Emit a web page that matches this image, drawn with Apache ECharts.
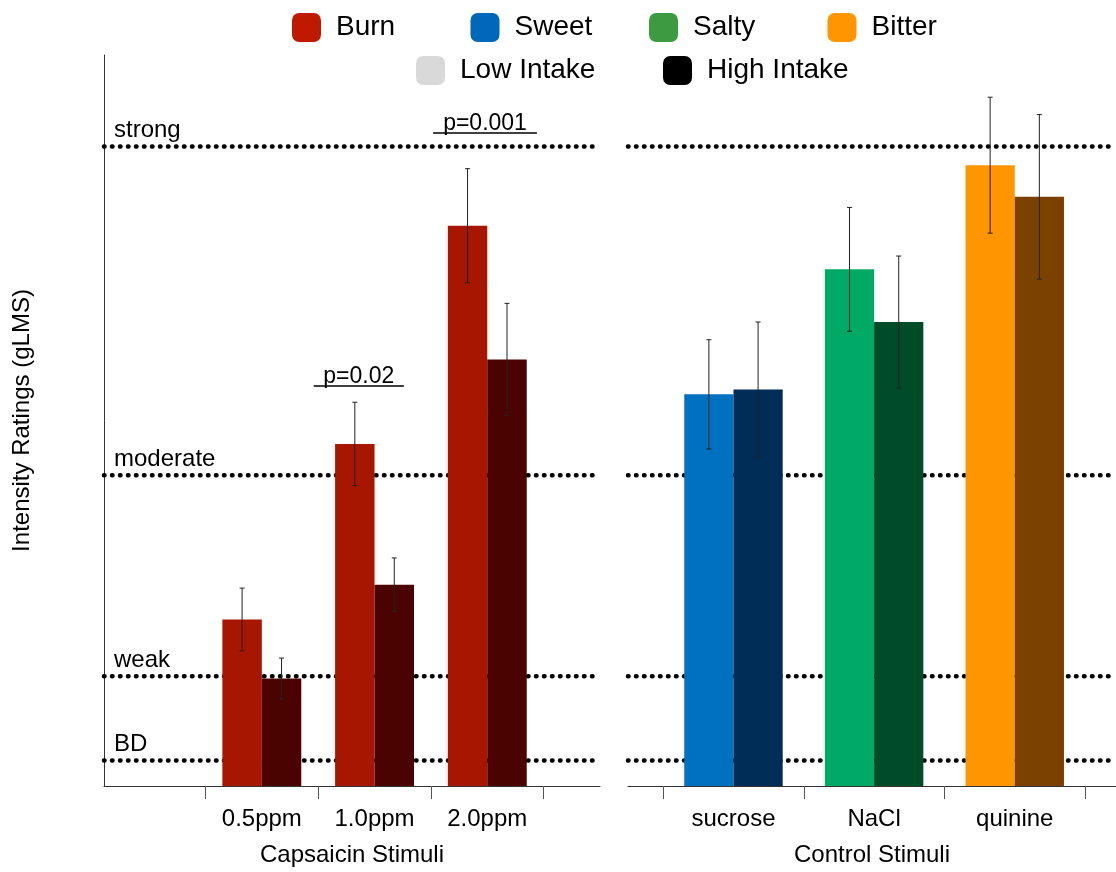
<!DOCTYPE html>
<html>
<head>
<meta charset="utf-8">
<script src="https://cdn.jsdelivr.net/npm/echarts@6/dist/echarts.min.js"></script>
<style>html,body{margin:0;padding:0;background:#fff}#chart{width:1116px;height:872px}</style>
</head>
<body>
<div id="chart"></div>
<script>
// ---- data ----
const capsaicinCats = ['0.5ppm', '1.0ppm', '2.0ppm'];
const capsLow = [9.11, 18.72, 30.66];
const capsLowErr = [1.72, 2.28, 3.12];
const capsHigh = [5.88, 11.01, 23.34];
const capsHighErr = [1.12, 1.47, 3.07];

const controlCats = ['sucrose', 'NaCl', 'quinine'];
const ctrlLow = [21.43, 28.27, 33.97];
const ctrlLowErr = [2.99, 3.39, 3.72];
const ctrlHigh = [21.70, 25.39, 32.24];
const ctrlHighErr = [3.69, 3.61, 4.50];

const refLabels = ['strong', 'moderate', 'weak', 'BD'];
const refValues = [35, 17, 6, 1.4];

const sigLabels = ['p=0.02', 'p=0.001'];
const sigFrom = [1.46, 2.52];
const sigTo = [2.26, 3.44];
const sigY = [21.9, 35.75];

const legendTastes = ['Burn', 'Sweet', 'Salty', 'Bitter'];
const legendIntake = ['Low Intake', 'High Intake'];

// ---- styles ----
const tasteLegendColors = ['#BF1A00', '#0068B8', '#3D9A40', '#FF9500'];
const capsLowColor = '#A61600';
const capsHighColor = '#4A0300';
const ctrlLowColors = ['#0070C0', '#00AA66', '#FF9500'];
const ctrlHighColors = ['#002D58', '#004B28', '#7B4100'];
const FONT = 'Liberation Sans, Arial, Helvetica, sans-serif';
const BAR_FRAC = 0.35;

function errorRenderer(sign) {
  return function (params, api) {
    const x = api.value(0);
    const lo = api.value(1);
    const hi = api.value(2);
    const band = api.size([1, 0])[0];
    const w = band * BAR_FRAC;
    const cx = api.coord([x, 0])[0] + sign * w / 2;
    const yLo = api.coord([x, lo])[1];
    const yHi = api.coord([x, hi])[1];
    const cap = 2.5;
    const st = { stroke: '#222', lineWidth: 1 };
    return {
      type: 'group',
      children: [
        { type: 'line', shape: { x1: cx, y1: yHi, x2: cx, y2: yLo }, style: st },
        { type: 'line', shape: { x1: cx - cap, y1: yHi, x2: cx + cap, y2: yHi }, style: st },
        { type: 'line', shape: { x1: cx - cap, y1: yLo, x2: cx + cap, y2: yLo }, style: st }
      ]
    };
  };
}

// dotted reference lines drawn beneath the bars
function refSeries(grid, showLabel) {
  return {
    type: 'custom', xAxisIndex: grid, yAxisIndex: grid, z: 1, silent: true,
    encode: { y: 0 },
    data: refValues.map(v => [v]),
    renderItem: function (params, api) {
      const cs = params.coordSys;
      const y = api.coord([0, api.value(0)])[1];
      const children = [{
        type: 'line',
        shape: { x1: cs.x, y1: y, x2: cs.x + cs.width, y2: y },
        style: { stroke: '#000', lineWidth: 4.5, lineDash: [0.5, 7.5], lineCap: 'round' }
      }];
      if (showLabel) {
        children.push({
          type: 'text', x: cs.x + 10, y: y - 4,
          style: {
            text: refLabels[params.dataIndex], fontSize: 24, fontFamily: FONT,
            fill: '#000', align: 'left', verticalAlign: 'bottom'
          }
        });
      }
      return { type: 'group', children: children };
    }
  };
}

function xAxisCommon(grid, min, max, cats, name) {
  return {
    type: 'value', gridIndex: grid, min: min, max: max,
    axisLine: { show: true, onZero: false, lineStyle: { color: '#333', width: 1 } },
    axisTick: { show: true, customValues: [0.5, 1.5, 2.5, 3.5], length: 13, lineStyle: { color: '#555', width: 1 } },
    axisLabel: {
      customValues: [1, 2, 3],
      formatter: v => cats[Math.round(v) - 1] || '',
      fontSize: 24, fontFamily: FONT, color: '#000', margin: 21
    },
    splitLine: { show: false },
    name: name, nameLocation: 'middle', nameGap: 57,
    nameTextStyle: { fontSize: 24, fontFamily: FONT, color: '#000' }
  };
}

function legendItem(name, left, top) {
  return {
    data: [name], left: left, top: top, icon: 'roundRect', padding: 0,
    itemWidth: 29, itemHeight: 29, selectedMode: false,
    textStyle: { fontSize: 28, fontFamily: FONT, color: '#000', padding: [0, 0, 0, 10] }
  };
}

const barCommon = { barWidth: (BAR_FRAC * 100) + '%', barGap: '0%', z: 6 };

const option = {
  animation: false,
  backgroundColor: '#fff',
  textStyle: { fontFamily: FONT, color: '#000' },
  legend: [
    ...legendTastes.map((n, i) => legendItem(n, 292 + i * 178.5, 13)),
    ...legendIntake.map((n, i) => legendItem(n, 416 + i * 247, 56))
  ],
  grid: [
    { left: 104, width: 496, top: 55, bottom: 79 },
    { left: 628, right: 0, top: 55, bottom: 79 }
  ],
  xAxis: [
    xAxisCommon(0, -0.4, 4, capsaicinCats, 'Capsaicin Stimuli'),
    xAxisCommon(1, 0.25, 3.72, controlCats, 'Control Stimuli')
  ],
  yAxis: [
    {
      type: 'value', gridIndex: 0, min: 0, max: 40,
      axisLine: { show: true, onZero: false, lineStyle: { color: '#333', width: 1 } },
      axisTick: { show: false }, axisLabel: { show: false }, splitLine: { show: false },
      name: 'Intensity Ratings (gLMS)', nameLocation: 'middle', nameGap: 70,
      nameTextStyle: { fontSize: 24, fontFamily: FONT, color: '#000' }
    },
    {
      type: 'value', gridIndex: 1, min: 0, max: 40,
      axisLine: { show: false, onZero: false }, axisTick: { show: false }, axisLabel: { show: false }, splitLine: { show: false }
    }
  ],
  series: [
    // legend-only taste entries
    ...legendTastes.map((n, i) => ({
      name: n, type: 'scatter', xAxisIndex: 0, yAxisIndex: 0, data: [],
      itemStyle: { color: tasteLegendColors[i], opacity: 1 }
    })),
    refSeries(0, true),
    refSeries(1, false),
    {
      name: 'Low Intake', type: 'bar', xAxisIndex: 0, yAxisIndex: 0, ...barCommon,
      itemStyle: { color: '#D9D9D9' },
      data: capsLow.map((v, i) => ({ value: [i + 1, v], itemStyle: { color: capsLowColor } }))
    },
    {
      name: 'High Intake', type: 'bar', xAxisIndex: 0, yAxisIndex: 0, ...barCommon,
      itemStyle: { color: '#000000' },
      data: capsHigh.map((v, i) => ({ value: [i + 1, v], itemStyle: { color: capsHighColor } }))
    },
    {
      name: 'Low Intake', type: 'bar', xAxisIndex: 1, yAxisIndex: 1, ...barCommon,
      itemStyle: { color: '#D9D9D9' },
      data: ctrlLow.map((v, i) => ({ value: [i + 1, v], itemStyle: { color: ctrlLowColors[i] } }))
    },
    {
      name: 'High Intake', type: 'bar', xAxisIndex: 1, yAxisIndex: 1, ...barCommon,
      itemStyle: { color: '#000000' },
      data: ctrlHigh.map((v, i) => ({ value: [i + 1, v], itemStyle: { color: ctrlHighColors[i] } }))
    },
    {
      type: 'line', xAxisIndex: 0, yAxisIndex: 0, data: [], z: 8,
      markLine: {
        silent: true, symbol: 'none',
        lineStyle: { type: 'solid', width: 1.5, color: '#000' },
        label: { show: true, position: 'middle', fontSize: 23, fontFamily: FONT, color: '#000', distance: -2 },
        emphasis: { disabled: true },
        data: sigLabels.map((l, i) => [
          { coord: [sigFrom[i], sigY[i]], name: l, label: { formatter: l } },
          { coord: [sigTo[i], sigY[i]] }
        ])
      }
    },
    {
      type: 'custom', xAxisIndex: 0, yAxisIndex: 0, z: 10, silent: true,
      renderItem: errorRenderer(-1), encode: { x: 0, y: [1, 2] },
      data: capsLow.map((v, i) => [i + 1, v - capsLowErr[i], v + capsLowErr[i]])
    },
    {
      type: 'custom', xAxisIndex: 0, yAxisIndex: 0, z: 10, silent: true,
      renderItem: errorRenderer(1), encode: { x: 0, y: [1, 2] },
      data: capsHigh.map((v, i) => [i + 1, v - capsHighErr[i], v + capsHighErr[i]])
    },
    {
      type: 'custom', xAxisIndex: 1, yAxisIndex: 1, z: 10, silent: true,
      renderItem: errorRenderer(-1), encode: { x: 0, y: [1, 2] },
      data: ctrlLow.map((v, i) => [i + 1, v - ctrlLowErr[i], v + ctrlLowErr[i]])
    },
    {
      type: 'custom', xAxisIndex: 1, yAxisIndex: 1, z: 10, silent: true,
      renderItem: errorRenderer(1), encode: { x: 0, y: [1, 2] },
      data: ctrlHigh.map((v, i) => [i + 1, v - ctrlHighErr[i], v + ctrlHighErr[i]])
    }
  ]
};

const chart = echarts.init(document.getElementById('chart'), null, { renderer: 'canvas' });
chart.setOption(option);
</script>
</body>
</html>
